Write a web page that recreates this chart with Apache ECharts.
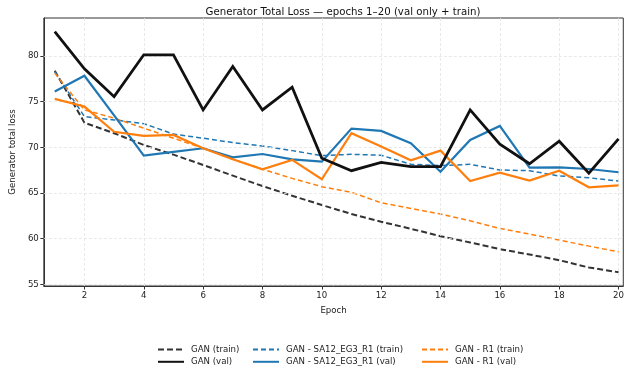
<!DOCTYPE html>
<html>
<head>
<meta charset="utf-8">
<script src="https://cdn.jsdelivr.net/npm/echarts@6/dist/echarts.min.js"></script>
<style>
html,body{margin:0;padding:0;background:#fff;}
#chart{width:627px;height:373px;}
</style>
</head>
<body>
<div id="chart"></div>
<script>
const epochs = [1,2,3,4,5,6,7,8,9,10,11,12,13,14,15,16,17,18,19,20];
const ganTrain = [78.4,72.7,71.55,70.26,69.2,68.07,66.9,65.76,64.7,63.68,62.7,61.85,61.08,60.27,59.58,58.85,58.26,57.64,56.84,56.32];
const ganVal = [82.67,78.6,75.55,80.14,80.14,74.1,78.86,74.1,76.6,68.8,67.44,68.35,67.88,67.88,74.1,70.34,68.2,70.67,67.16,70.92];
const saTrain = [78.3,73.37,73.0,72.6,71.45,71.0,70.52,70.15,69.64,69.09,69.24,69.13,68.15,68.0,68.14,67.52,67.44,66.86,66.67,66.3];
const saVal = [76.12,77.84,73.5,69.09,69.5,69.9,68.91,69.27,68.69,68.43,72.05,71.8,70.45,67.33,70.81,72.35,67.77,67.8,67.63,67.27];
const r1Train = [78.13,74.1,73.2,72.1,71.0,69.9,68.7,67.6,66.6,65.69,65.07,63.93,63.31,62.69,61.96,61.12,60.5,59.84,59.18,58.55];
const r1Val = [75.31,74.47,71.7,71.25,71.36,69.9,68.7,67.6,68.62,66.5,71.55,70.08,68.58,69.64,66.3,67.22,66.35,67.44,65.62,65.84];
const xTicks = [2,4,6,8,10,12,14,16,18,20];
const yTicks = [55,60,65,70,75,80];

const pairs = a => epochs.map((e,i)=>[e,a[i]]);
const FONT = 'DejaVu Sans';

function mk(name, data, color, width, dashed, z){
  return {
    name, type:'line', data:pairs(data), symbol:'none', z:z,
    lineStyle:{color, width, type: dashed ? dashed : 'solid', cap:'butt', join:'miter'},
    itemStyle:{color},
    emphasis:{disabled:true}, animation:false
  };
}

const gridLineStyle = {color:'#e3e3e3', width:0.8, type:[3,2]};

const series = [
  mk('GAN (train)', ganTrain, '#333333', 2, [6,3], 3),
  mk('GAN (val)', ganVal, '#111111', 2.8, null, 6),
  mk('GAN - SA12_EG3_R1 (train)', saTrain, '#1f77b4', 1.5, [5,3], 4),
  mk('GAN - SA12_EG3_R1 (val)', saVal, '#1f77b4', 2.2, null, 5),
  mk('GAN - R1 (train)', r1Train, '#ff7f0e', 1.5, [5,3], 4),
  mk('GAN - R1 (val)', r1Val, '#ff7f0e', 2.2, null, 5)
];
// grid lines through the library's scales
series.push({
  type:'line', data:[], silent:true, z:1,
  markLine:{silent:true, symbol:'none', label:{show:false}, lineStyle:gridLineStyle, animation:false,
    data: xTicks.map(v=>({xAxis:v})).concat(yTicks.map(v=>({yAxis:v})))}
});

const legendBase = {
  orient:'vertical', top:339, itemWidth:26, itemHeight:14, itemGap:1,
  textStyle:{fontFamily:FONT, fontSize:8.6, color:'#222', padding:[0,0,0,2]},
  itemStyle:{opacity:0},
  selectedMode:false
};

const option = {
  animation:false,
  backgroundColor:'#fff',
  title:{text:'Generator Total Loss — epochs 1–20 (val only + train)', left:338, top:2, textAlign:'center',
    textStyle:{fontFamily:FONT, fontSize:10.2, fontWeight:'normal', color:'#111'}},
  grid:{left:43, top:18, right:1, bottom:87, show:true, borderColor:'#333', borderWidth:1, backgroundColor:'transparent'},
  legend:[
    Object.assign({}, legendBase, {left:152, data:['GAN (train)','GAN (val)']}),
    Object.assign({}, legendBase, {left:247, data:['GAN - SA12_EG3_R1 (train)','GAN - SA12_EG3_R1 (val)']}),
    Object.assign({}, legendBase, {left:416, data:['GAN - R1 (train)','GAN - R1 (val)']})
  ],
  xAxis:{
    type:'value', min:0.632, max:20.16,
    name:'Epoch', nameLocation:'middle', nameGap:20,
    nameTextStyle:{fontFamily:FONT, fontSize:8.6, color:'#222'},
    axisLine:{show:true, lineStyle:{color:'#333', width:1}},
    axisTick:{show:true, length:3.5, lineStyle:{color:'#333'}, customValues:xTicks},
    axisLabel:{fontFamily:FONT, fontSize:8.6, color:'#222', margin:5, customValues:xTicks},
    splitLine:{show:false}
  },
  yAxis:{
    type:'value', min:54.81, max:84.17,
    name:'Generator total loss', nameLocation:'middle', nameGap:22, nameRotate:90,
    nameTextStyle:{fontFamily:FONT, fontSize:8.6, color:'#222'},
    axisLine:{show:true, lineStyle:{color:'#333', width:1}},
    axisTick:{show:true, length:3.5, lineStyle:{color:'#333'}, customValues:yTicks},
    axisLabel:{fontFamily:FONT, fontSize:8.6, color:'#222', margin:5, customValues:yTicks},
    splitLine:{show:false}
  },
  series
};

const chart = echarts.init(document.getElementById('chart'), null, {renderer:'canvas'});
chart.setOption(option);
</script>
</body>
</html>
